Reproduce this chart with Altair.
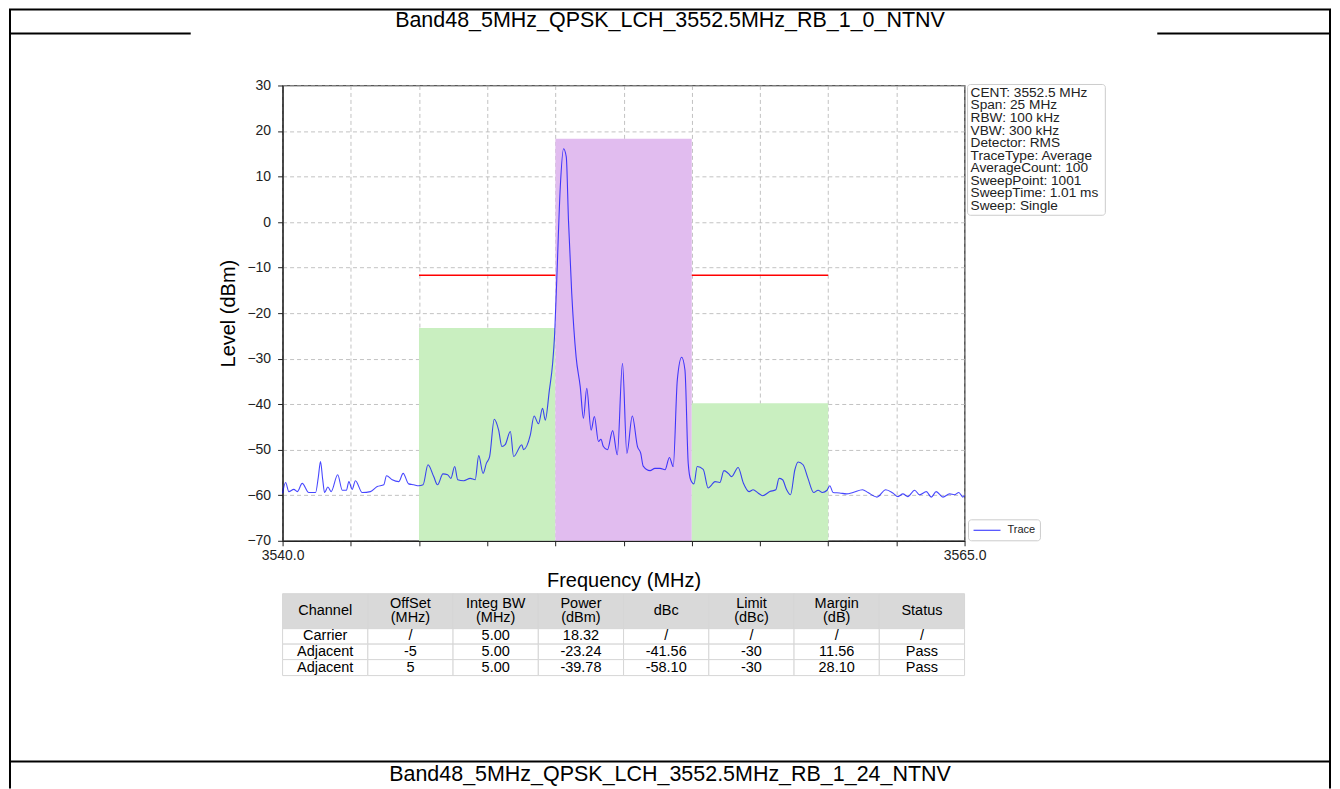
import altair as alt
import pandas as pd

# ---------------- data ----------------
freq_mhz = [
    3540.00, 3540.11, 3540.23, 3540.41, 3540.54, 3540.72, 3540.96, 3541.21, 3541.31, 3541.39,
    3541.47, 3541.54, 3541.66, 3541.78, 3542.02, 3542.19, 3542.34, 3542.43, 3542.55, 3542.67,
    3542.92, 3543.22, 3543.47, 3543.71, 3543.81, 3544.02, 3544.26, 3544.42, 3544.62, 3544.81,
    3544.99, 3545.15, 3545.33, 3545.54, 3545.68, 3545.88, 3546.05, 3546.17, 3546.31, 3546.42,
    3546.64, 3546.88, 3547.06, 3547.19, 3547.35, 3547.47, 3547.59, 3547.76, 3547.92, 3548.04,
    3548.16, 3548.35, 3548.47, 3548.77, 3548.83, 3549.08, 3549.22, 3549.38, 3549.53, 3549.63,
    3549.78, 3549.90, 3549.97, 3550.05, 3550.18, 3550.30, 3550.40, 3550.48, 3550.60, 3550.76,
    3550.91, 3551.03, 3551.15, 3551.31, 3551.43, 3551.58, 3551.67, 3551.76, 3551.91, 3552.10,
    3552.27, 3552.46, 3552.62, 3552.82, 3553.01, 3553.13, 3553.22, 3553.47, 3553.65, 3553.84,
    3554.02, 3554.18, 3554.32, 3554.47, 3554.63, 3554.75, 3554.87, 3554.96, 3555.08, 3555.20,
    3555.42, 3555.60, 3555.73, 3555.85, 3556.03, 3556.18, 3556.34, 3556.46, 3556.70, 3556.89,
    3557.10, 3557.25, 3557.43, 3557.60, 3557.86, 3558.08, 3558.20, 3558.33, 3558.47, 3558.62,
    3558.78, 3558.90, 3559.08, 3559.26, 3559.47, 3559.63, 3559.79, 3559.96, 3560.06, 3560.18,
    3560.42, 3560.67, 3560.91, 3561.26, 3561.46, 3561.79, 3562.11, 3562.37, 3562.56, 3562.74,
    3562.92, 3563.17, 3563.35, 3563.60, 3563.78, 3563.96, 3564.21, 3564.45, 3564.63, 3564.79,
    3564.94, 3565.00,
]
level_dbm = [
    -59.6, -57.2, -59.2, -58.7, -59.2, -57.4, -59.4, -59.4, -56.0, -52.6,
    -56.5, -59.4, -58.2, -59.2, -55.5, -58.9, -58.9, -57.0, -58.7, -56.8,
    -59.4, -59.2, -58.1, -57.7, -55.7, -56.6, -57.0, -55.2, -57.5, -57.7,
    -57.9, -57.7, -53.3, -55.9, -57.7, -55.3, -55.5, -56.3, -53.7, -56.6,
    -56.8, -56.3, -56.6, -51.3, -55.2, -53.0, -51.5, -43.3, -45.7, -49.3,
    -48.9, -46.0, -51.5, -48.9, -50.0, -46.8, -42.6, -44.3, -40.9, -43.5,
    -36.9, -31.0, -25.0, -12.8, 7.7, 16.1, 14.3, 0.4, -15.7, -29.6,
    -36.1, -43.1, -36.5, -45.7, -42.7, -48.2, -47.7, -49.3, -50.0, -45.8,
    -51.1, -31.0, -50.8, -42.6, -49.3, -50.8, -53.6, -54.6, -54.1, -54.1,
    -54.4, -51.7, -53.7, -34.7, -29.7, -32.5, -53.0, -56.6, -57.5, -53.7,
    -54.3, -58.4, -57.7, -57.0, -57.2, -54.6, -55.2, -55.9, -53.9, -57.3,
    -59.2, -58.8, -59.5, -60.1, -59.2, -58.8, -56.3, -56.6, -58.7, -59.9,
    -54.4, -52.7, -53.3, -56.3, -59.4, -58.9, -59.4, -58.9, -57.9, -59.4,
    -59.5, -59.7, -59.4, -58.8, -59.4, -60.4, -58.8, -59.5, -60.3, -59.7,
    -60.3, -58.9, -59.9, -59.2, -60.4, -59.2, -60.4, -59.7, -59.9, -59.4,
    -60.4, -60.0,
]

chan_start = [3545.0, 3550.0, 3555.0]
chan_stop = [3550.0, 3555.0, 3560.0]
chan_power = [-23.24, 18.32, -39.78]
chan_fill = ["#c9efc0", "#e1bcef", "#c9efc0"]

carrier_power = 18.32
limit_dbc = -30.0
limit_start = [3545.0, 3555.0]
limit_stop = [3550.0, 3560.0]

x_ticks = [3540.0 + 2.5 * i for i in range(11)]
y_ticks = list(range(-70, 31, 10))

title_top = "Band48_5MHz_QPSK_LCH_3552.5MHz_RB_1_0_NTNV"
title_bottom = "Band48_5MHz_QPSK_LCH_3552.5MHz_RB_1_24_NTNV"

info_lines = [
    "CENT: 3552.5 MHz", "Span: 25 MHz", "RBW: 100 kHz", "VBW: 300 kHz",
    "Detector: RMS", "TraceType: Average", "AverageCount: 100",
    "SweepPoint: 1001", "SweepTime: 1.01 ms", "Sweep: Single",
]

table_header = [["Channel"], ["OffSet", "(MHz)"], ["Integ BW", "(MHz)"], ["Power", "(dBm)"],
                ["dBc"], ["Limit", "(dBc)"], ["Margin", "(dB)"], ["Status"]]
row_channel = ["Carrier", "Adjacent", "Adjacent"]
row_offset = ["/", "-5", "5"]
row_bw = ["5.00", "5.00", "5.00"]
row_power = ["18.32", "-23.24", "-39.78"]
row_dbc = ["/", "-41.56", "-58.10"]
row_limit = ["/", "-30", "-30"]
row_margin = ["/", "11.56", "28.10"]
row_status = ["/", "Pass", "Pass"]

# ---------------- layout (page pixels) ----------------
FONT = "Liberation Sans"
OX, OY = 282, 85          # plot origin on the page
W, H = 683, 456           # plot area
RIGHT = 1331              # right page border (kept inside the body width)


def px(v):
    return v - OX


def py(v):
    return v - OY


xscale = alt.Scale(domain=[3540, 3565], nice=False, zero=False)
yscale = alt.Scale(domain=[-70, 30], nice=False, zero=False)

xaxis = alt.Axis(
    values=x_ticks,
    labelExpr="(datum.value == 3540 || datum.value == 3565) ? format(datum.value, '.1f') : ''",
    grid=True, gridDash=[4, 3], gridColor="#b3b3b3", gridWidth=0.8,
    tickSize=5, tickColor="#222", tickWidth=1,
    domainColor="#222", domainWidth=1.2,
    labelFont=FONT, labelFontSize=14, labelColor="#222", labelPadding=3,
    labelFlush=False, labelOverlap=False,
    title="Frequency (MHz)", titleFont=FONT, titleFontSize=20,
    titleFontWeight="normal", titleColor="black",
    titleX=W / 2, titleY=40, titleBaseline="middle", titleAlign="center",
)
yaxis = alt.Axis(
    values=y_ticks, format="d",
    labelExpr="replace(datum.label, '-', '\u2212')",
    grid=True, gridDash=[4, 3], gridColor="#b3b3b3", gridWidth=0.8,
    tickSize=5, tickColor="#222", tickWidth=1,
    domainColor="#222", domainWidth=1.2,
    labelFont=FONT, labelFontSize=14, labelColor="#222", labelPadding=7,
    labelOverlap=False,
    title="Level (dBm)", titleFont=FONT, titleFontSize=20,
    titleFontWeight="normal", titleColor="black",
    titleX=-54, titleY=H / 2, titleAngle=270, titleBaseline="middle", titleAlign="center",
)


def X(f):
    return alt.X(f, type="quantitative", scale=xscale, axis=xaxis)


def Y(f):
    return alt.Y(f, type="quantitative", scale=yscale, axis=yaxis)


# channel rectangles
ch_df = pd.DataFrame({"start": chan_start, "stop": chan_stop, "power": chan_power,
                      "base": [-70.0] * 3, "fill": chan_fill})
rects = alt.Chart(ch_df).mark_rect(strokeWidth=0).encode(
    x=X("start"), x2="stop", y=Y("power"), y2="base",
    color=alt.Color("fill:N", scale=None),
)

# limit lines
lim_df = pd.DataFrame({"start": limit_start, "stop": limit_stop,
                       "lim": [carrier_power + limit_dbc] * 2})
limits = alt.Chart(lim_df).mark_rule(color="#ff0000", strokeWidth=1.5).encode(
    x=X("start"), x2="stop", y=Y("lim"),
)

# trace
tr_df = pd.DataFrame({"f": freq_mhz, "L": level_dbm})
trace = alt.Chart(tr_df).mark_line(color="#0000ff", opacity=0.72, strokeWidth=1.1,
                                   interpolate="monotone").encode(
    x=X("f"), y=Y("L"),
)

# page borders (page coordinates)
borders = pd.DataFrame({
    "x1": [8, 8, 1158, 8, 9, RIGHT],
    "x2": [RIGHT + 1, 190, RIGHT + 1, RIGHT + 1, 9, RIGHT],
    "y1": [9, 33, 33, 762, 9, 9],
    "y2": [9, 33, 33, 762, 789, 789],
    "w": [2, 2, 2, 2, 2, 2],
})
borders = borders.assign(x1=borders.x1 - OX, x2=borders.x2 - OX,
                         y1=borders.y1 - OY, y2=borders.y2 - OY)
border_layer = alt.Chart(borders).mark_rule(color="black").encode(
    x=alt.X("x1:Q", scale=None), x2="x2:Q",
    y=alt.Y("y1:Q", scale=None), y2="y2:Q",
    strokeWidth=alt.StrokeWidth("w:Q", scale=None, legend=None),
)

titles_df = pd.DataFrame({"t": [title_top, title_bottom],
                          "x": [px(670), px(670)], "y": [py(20), py(776)]})
titles = alt.Chart(titles_df).mark_text(font=FONT, fontSize=21.5, color="black",
                                        align="center", baseline="middle").encode(
    x=alt.X("x:Q", scale=None), y=alt.Y("y:Q", scale=None), text="t:N",
)

# info box
info_box_df = pd.DataFrame({"x1": [px(968)], "x2": [px(1106)], "y1": [py(84)], "y2": [py(215)]})
info_box = alt.Chart(info_box_df).mark_rect(fill="white", stroke="#cccccc", strokeWidth=1,
                                            cornerRadius=3).encode(
    x=alt.X("x1:Q", scale=None), x2="x2:Q", y=alt.Y("y1:Q", scale=None), y2="y2:Q",
)
info_df = pd.DataFrame({"t": info_lines,
                        "x": [px(971)] * len(info_lines),
                        "y": [py(92.5 + 12.55 * i) for i in range(len(info_lines))]})
info_text = alt.Chart(info_df).mark_text(font=FONT, fontSize=13.7, color="#222",
                                         align="left", baseline="middle").encode(
    x=alt.X("x:Q", scale=None), y=alt.Y("y:Q", scale=None), text="t:N",
)

# legend
leg_box_df = pd.DataFrame({"x1": [px(969)], "x2": [px(1041)], "y1": [py(520)], "y2": [py(541)]})
leg_box = alt.Chart(leg_box_df).mark_rect(fill="white", stroke="#cccccc", strokeWidth=1,
                                          cornerRadius=3).encode(
    x=alt.X("x1:Q", scale=None), x2="x2:Q", y=alt.Y("y1:Q", scale=None), y2="y2:Q",
)
leg_line_df = pd.DataFrame({"x1": [px(974)], "x2": [px(1001)], "y": [py(530.5)]})
leg_line = alt.Chart(leg_line_df).mark_rule(color="#0000ff", opacity=0.72, strokeWidth=1.2).encode(
    x=alt.X("x1:Q", scale=None), x2="x2:Q", y=alt.Y("y:Q", scale=None),
)
leg_text_df = pd.DataFrame({"t": ["Trace"], "x": [px(1008)], "y": [py(530.5)]})
leg_text = alt.Chart(leg_text_df).mark_text(font=FONT, fontSize=11, color="#222",
                                            align="left", baseline="middle").encode(
    x=alt.X("x:Q", scale=None), y=alt.Y("y:Q", scale=None), text="t:N",
)

# table
TX0, TX1 = 282, 965
row_edges = [594, 629, 644.5, 660, 676]
ncol = len(table_header)
cw = (TX1 - TX0) / ncol
columns = [row_channel, row_offset, row_bw, row_power, row_dbc, row_limit, row_margin, row_status]
cells, texts = [], []
hdr_mid = (row_edges[0] + row_edges[1]) / 2
for c in range(ncol):
    xa = TX0 + c * cw
    xc = px(xa + cw / 2)
    cells.append({"x1": px(xa), "x2": px(xa + cw), "y1": py(row_edges[0]), "y2": py(row_edges[1]),
                  "fill": "#d9d9d9"})
    lines = table_header[c]
    for k, s in enumerate(lines):
        texts.append({"t": s, "tx": xc,
                      "ty": py(hdr_mid + (k - (len(lines) - 1) / 2) * 14.5)})
    for r in range(3):
        cells.append({"x1": px(xa), "x2": px(xa + cw), "y1": py(row_edges[r + 1]),
                      "y2": py(row_edges[r + 2]), "fill": "#ffffff"})
        texts.append({"t": columns[c][r], "tx": xc,
                      "ty": py((row_edges[r + 1] + row_edges[r + 2]) / 2)})
cells_df = pd.DataFrame(cells)
texts_df = pd.DataFrame(texts)
table_cells = alt.Chart(cells_df).mark_rect(stroke="#d6d6d6", strokeWidth=1).encode(
    x=alt.X("x1:Q", scale=None), x2="x2:Q", y=alt.Y("y1:Q", scale=None), y2="y2:Q",
    color=alt.Color("fill:N", scale=None),
)
table_text = alt.Chart(texts_df).mark_text(font=FONT, fontSize=14.5, color="black",
                                           align="center", baseline="middle").encode(
    x=alt.X("tx:Q", scale=None), y=alt.Y("ty:Q", scale=None), text="t:N",
)

chart = alt.layer(
    rects, limits, trace,
    border_layer, titles, info_box, info_text, leg_box, leg_line, leg_text,
    table_cells, table_text,
).properties(
    width=W, height=H, padding=0, background="white",
).configure_view(
    stroke="#222", strokeWidth=1.2,
)

chart.save("out.html", embed_options={"renderer": "svg", "actions": False})
